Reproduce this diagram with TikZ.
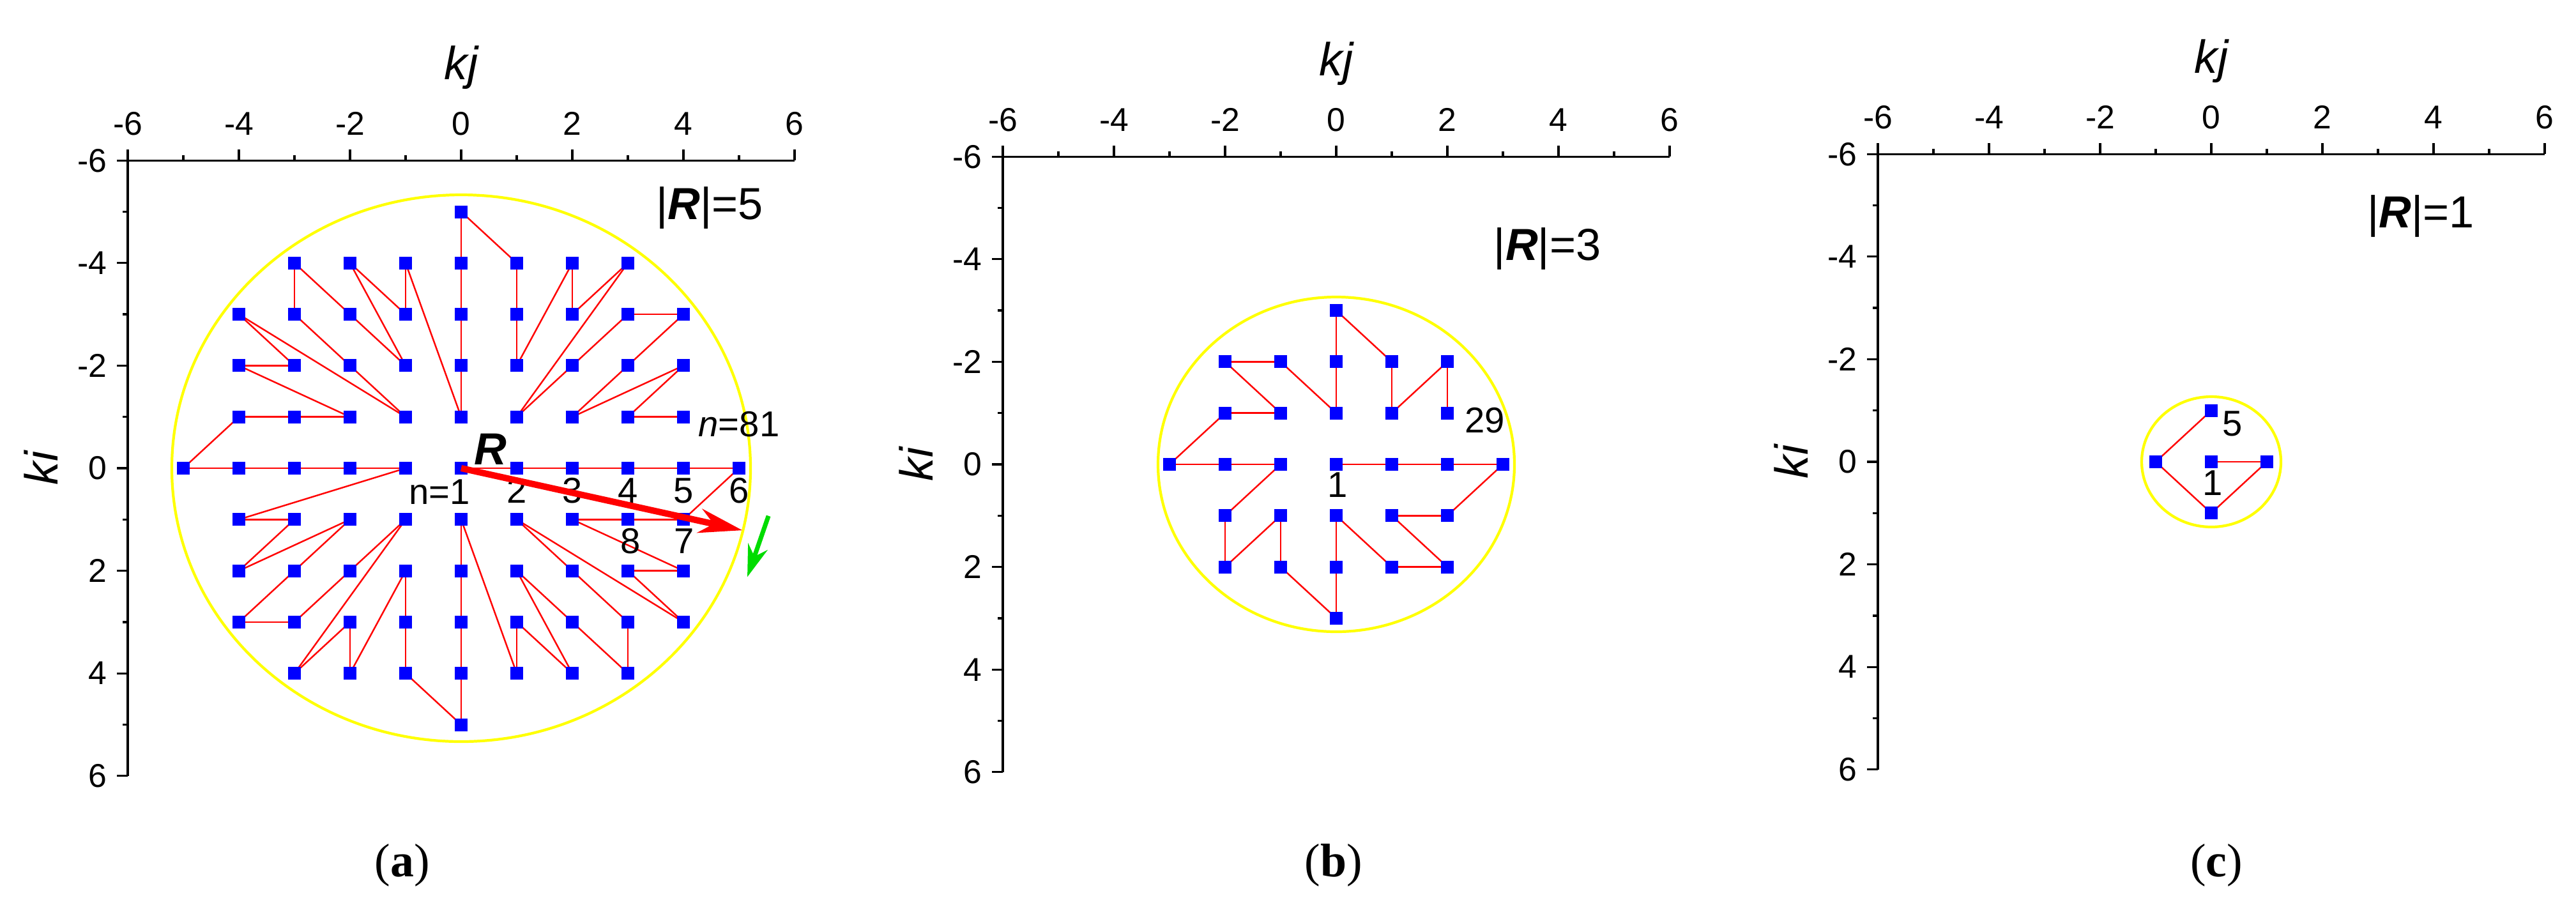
\documentclass[tikz,border=0pt]{standalone}
\usepackage{fontspec}
\setmainfont{Liberation Sans}
\newfontfamily\captfont{Liberation Serif}
\usetikzlibrary{arrows.meta}
\definecolor{ringyellow}{RGB}{255,255,0}
\definecolor{ptblue}{RGB}{0,0,255}
\definecolor{arrowgreen}{RGB}{0,220,0}

% lattice points (ki/kj) in the order of n
\def\ptsa{0/0,0/1,0/2,0/3,0/4,0/5,
  1/4,1/3,1/2,2/4,2/3,3/4,1/1,2/2,3/3,4/3,3/2,2/1,4/2,3/1,4/1,
  1/0,2/0,3/0,4/0,5/0,
  4/-1,3/-1,2/-1,4/-2,3/-2,4/-3,1/-1,2/-2,3/-3,3/-4,2/-3,1/-2,2/-4,1/-3,1/-4,
  0/-1,0/-2,0/-3,0/-4,0/-5,
  -1/-4,-1/-3,-1/-2,-2/-4,-2/-3,-3/-4,-1/-1,-2/-2,-3/-3,-4/-3,-3/-2,-2/-1,-4/-2,-3/-1,-4/-1,
  -1/0,-2/0,-3/0,-4/0,-5/0,
  -4/1,-3/1,-2/1,-4/2,-3/2,-4/3,-1/1,-2/2,-3/3,-3/4,-2/3,-1/2,-2/4,-1/3,-1/4}
\def\ptsb{0/0,0/1,0/2,0/3,1/2,1/1,2/2,2/1,1/0,2/0,3/0,2/-1,1/-1,2/-2,1/-2,
  0/-1,0/-2,0/-3,-1/-2,-1/-1,-2/-2,-2/-1,-1/0,-2/0,-3/0,-2/1,-1/1,-2/2,-1/2}
\def\ptsc{0/0,0/1,1/0,0/-1,-1/0}

\newcommand\kaxes[1]{%
  \draw[axis] (6,-6) -- (-6,-6) -- (-6,6);
  \foreach \t in {-6,-4,...,6} {
    \draw[axis] (\t,-6) -- ++(0pt,0.17cm);
    \draw[axis] (-6,\t) -- ++(-0.17cm,0pt);
    \node[ticklab,anchor=south] (#1x\t) at ([yshift=0.39cm]\t,-6) {\t};
    \node[ticklab,anchor=east] (#1y\t) at ([xshift=-0.32cm]-6,\t) {\t};
  }
  \foreach \t in {-5,-3,...,5} {
    \draw[axis] (\t,-6) -- ++(0pt,0.08cm);
    \draw[axis] (-6,\t) -- ++(-0.08cm,0pt);
  }
  \node[axtitle] (#1kj) at ([yshift=1.46cm]0,-6) {kj};
  \node[axtitle,rotate=90] (#1ki) at ([xshift=-1.36cm]-6,0) {ki};
}

\begin{document}
\begin{tikzpicture}[
    axis/.style={black, line width=0.95pt},
    ticklab/.style={font=\fontsize{14.7}{17}\selectfont, inner sep=0pt},
    axtitle/.style={font=\fontsize{20.7}{24}\selectfont\itshape, inner sep=0pt},
    link/.style={red, line width=0.7pt},
    pt/.style={fill=ptblue, minimum size=0.2cm, inner sep=0pt},
    ring/.style={ringyellow, line width=1.2pt},
    lab/.style={font=\fontsize{16}{19}\selectfont, inner sep=0pt},
    rlab/.style={font=\fontsize{20}{24}\selectfont, inner sep=0pt},
    capt/.style={font=\captfont\fontsize{21}{25}\selectfont, inner sep=0pt}]
    \useasboundingbox (0,0) rectangle (40.33,-14.19);

    % (a) |R|=5
    \begin{scope}[shift={(7.22,-7.33)},x=0.87cm,y=-0.803cm]
    \kaxes{a}
    \foreach [count=\n] \i/\j in \ptsa {\coordinate (a\n) at (\j,\i);}
    \draw[ring] (a1) ellipse [x radius=4.53cm, y radius=4.28cm];
    \foreach \n [remember=\n as \m (initially 1)] in {2,...,81} {\draw[link] (a\m) -- (a\n);}
    \foreach \n in {1,...,81} {\node[pt] (qa\n) at (a\n) {};}
    \node[lab,anchor=east] (na1) at (0.17,0.46) {n=1};
    \foreach \k/\x in {2/1,3/2,4/3,5/4,6/5} {\node[lab] (na\k) at (\x,0.44) {\k};}
    \node[lab] (na7) at (4.01,1.42) {7};
    \node[lab] (na8) at (3.05,1.42) {8};
    \node[lab] (na81) at (5.0,-0.86) {\textit{n}=81};
    \node[rlab] (rvec) at (0.53,-0.37) {\textbf{\textit{R}}};
    \node[rlab] (rnorma) at (4.47,-5.07) {|\textbf{\textit{R}}|=5};
    \coordinate (rtip) at (5.06,1.21);
    \draw[red, line width=2.85pt, -{Stealth[length=6.8mm,width=3.8mm]}] (a1) -- (rtip);
    \coordinate (g1) at (5.53,0.93);
    \coordinate (g2) at (5.15,2.12);
    \draw[arrowgreen, line width=2pt, -{Stealth[length=5mm,width=3.2mm]}] (g1) -- (g2);
    \end{scope}

    % (b) |R|=3
    \begin{scope}[shift={(20.92,-7.27)},x=0.87cm,y=-0.803cm]
    \kaxes{b}
    \foreach [count=\n] \i/\j in \ptsb {\coordinate (b\n) at (\j,\i);}
    \draw[ring] (b1) ellipse [x radius=2.79cm, y radius=2.62cm];
    \foreach \n [remember=\n as \m (initially 1)] in {2,...,29} {\draw[link] (b\m) -- (b\n);}
    \foreach \n in {1,...,29} {\node[pt] (qb\n) at (b\n) {};}
    \node[lab] (nb1) at (0.02,0.4) {1};
    \node[lab] (nb29) at (2.67,-0.86) {29};
    \node[rlab] (rnormb) at (3.8,-4.2) {|\textbf{\textit{R}}|=3};
    \end{scope}

    % (c) |R|=1
    \begin{scope}[shift={(34.62,-7.23)},x=0.87cm,y=-0.803cm]
    \kaxes{c}
    \foreach [count=\n] \i/\j in \ptsc {\coordinate (c\n) at (\j,\i);}
    \draw[ring] (c1) ellipse [x radius=1.09cm, y radius=1.02cm];
    \foreach \n [remember=\n as \m (initially 1)] in {2,...,5} {\draw[link] (c\m) -- (c\n);}
    \foreach \n in {1,...,5} {\node[pt] (qc\n) at (c\n) {};}
    \node[lab] (nc1) at (0.02,0.41) {1};
    \node[lab] (nc5) at (0.38,-0.74) {5};
    \node[rlab] (rnormc) at (3.77,-4.79) {|\textbf{\textit{R}}|=1};
    \end{scope}

    \node[capt] (capa) at (6.30,-13.55) {(\textbf{a})};
    \node[capt] (capb) at (20.88,-13.55) {(\textbf{b})};
    \node[capt] (capc) at (34.70,-13.55) {(\textbf{c})};
\end{tikzpicture}
\end{document}
